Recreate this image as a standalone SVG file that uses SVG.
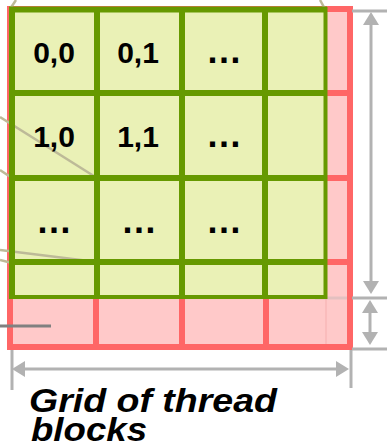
<svg xmlns="http://www.w3.org/2000/svg" width="387" height="447" viewBox="0 0 387 447">
  <style>
    .redline { stroke: #FF6666; stroke-width: 6; fill: none; }
    .greenline { stroke: #669900; stroke-width: 6; fill: none; }
    .cell { fill: #EAF1B6; }
    .lbl { font-family: "Liberation Sans", Arial, sans-serif; font-weight: bold; font-size: 30px; fill: #000; text-anchor: middle; }
    .dots { font-size: 36px; }
    .callout { stroke: #BDBA98; stroke-width: 2.5; fill: none; }
    .dim { stroke: #B2B2B2; stroke-width: 3; fill: none; }
    .dimarrow { stroke: #B2B2B2; stroke-width: 3; fill: none; marker-start: url(#ah); marker-end: url(#ah); }
    .title { font-family: "Liberation Sans", Arial, sans-serif; font-weight: bold; font-style: italic; font-size: 34px; fill: #000; }
  </style>
  <defs>
    <marker id="ah" viewBox="0 0 13 16" refX="0" refY="8" markerWidth="13" markerHeight="16" markerUnits="userSpaceOnUse" orient="auto-start-reverse">
      <path d="M0,0 L13,8 L0,16 Z" fill="#B2B2B2"/>
    </marker>
  </defs>

  <!-- red (full) grid behind -->
  <g id="red-grid">
    <rect x="10" y="9" width="340" height="338" fill="#FFC9C9"/>
    <line x1="326" y1="298" x2="326" y2="344" stroke="#F5AFAF" stroke-width="1"/>
    <line x1="315" y1="298" x2="347" y2="298" stroke="#B2B2B2" stroke-width="3" opacity="0.35"/>
    <path class="redline" d="M96,93 V347 M182,93 V347 M266,93 V347 M10,93 H350 M10,178 H350 M10,262 H350"/>
    <rect class="redline" x="10" y="9" width="340" height="338"/>
  </g>

  <!-- green block area background -->
  <rect id="green-area" class="cell" x="12" y="9" width="313" height="288"/>

  <!-- connectors -->
  <g id="connectors">
    <line class="callout" x1="0" y1="117" x2="97" y2="178"/>
    <line class="callout" x1="0" y1="170" x2="12" y2="178"/>
    <line class="callout" x1="0" y1="250" x2="97" y2="262"/>
    <line class="callout" x1="0" y1="260" x2="12" y2="263"/>
    <line class="callout" x1="16" y1="0" x2="10" y2="9"/>
    <line class="callout" x1="320" y1="0" x2="325" y2="9"/>
    <line x1="0" y1="326" x2="51" y2="326" stroke="#808080" stroke-width="3"/>
  </g>

  <!-- green cells (thread blocks) -->
  <g id="cells">
    <g id="cell-0-0"><text class="lbl" x="54" y="63">0,0</text></g>
    <g id="cell-0-1"><text class="lbl" x="138" y="63">0,1</text></g>
    <g id="cell-0-2"><text class="lbl dots" x="224" y="63">…</text></g>
    <g id="cell-1-0"><text class="lbl" x="54" y="147">1,0</text></g>
    <g id="cell-1-1"><text class="lbl" x="138" y="147">1,1</text></g>
    <g id="cell-1-2"><text class="lbl dots" x="224" y="147">…</text></g>
    <g id="cell-2-0"><text class="lbl dots" x="54" y="233">…</text></g>
    <g id="cell-2-1"><text class="lbl dots" x="139" y="233">…</text></g>
    <g id="cell-2-2"><text class="lbl dots" x="224" y="233">…</text></g>
  </g>

  <!-- green grid lines -->
  <g id="green-grid">
    <path class="greenline" d="M12,6.5 V299 M97,6.5 V299 M182,6.5 V299 M265,6.5 V299 M9,9.5 H327 M9,93 H327 M9,178 H327 M9,262 H327"/>
    <path d="M325.5,7 V299 M9,297 H327" stroke="#669900" stroke-width="4" fill="none"/>
  </g>

  <!-- dimensions -->
  <g id="dimensions">
    <line class="dim" x1="352" y1="11" x2="387" y2="11"/>
    <line class="dim" x1="352" y1="298" x2="387" y2="298"/>
    <line class="dim" x1="352" y1="349" x2="387" y2="349"/>
    <line class="dimarrow" x1="371" y1="25" x2="371" y2="281"/>
    <line class="dimarrow" x1="370" y1="313" x2="370" y2="332"/>
    <line class="dim" x1="12" y1="350" x2="12" y2="390"/>
    <line class="dim" x1="351" y1="350" x2="351" y2="388"/>
    <line class="dimarrow" x1="25" y1="369" x2="336" y2="369"/>
  </g>

  <g id="title">
    <text class="title" x="29" y="412" textLength="248" lengthAdjust="spacingAndGlyphs">Grid of thread</text>
    <text class="title" x="31" y="441" textLength="116" lengthAdjust="spacingAndGlyphs">blocks</text>
  </g>
</svg>
